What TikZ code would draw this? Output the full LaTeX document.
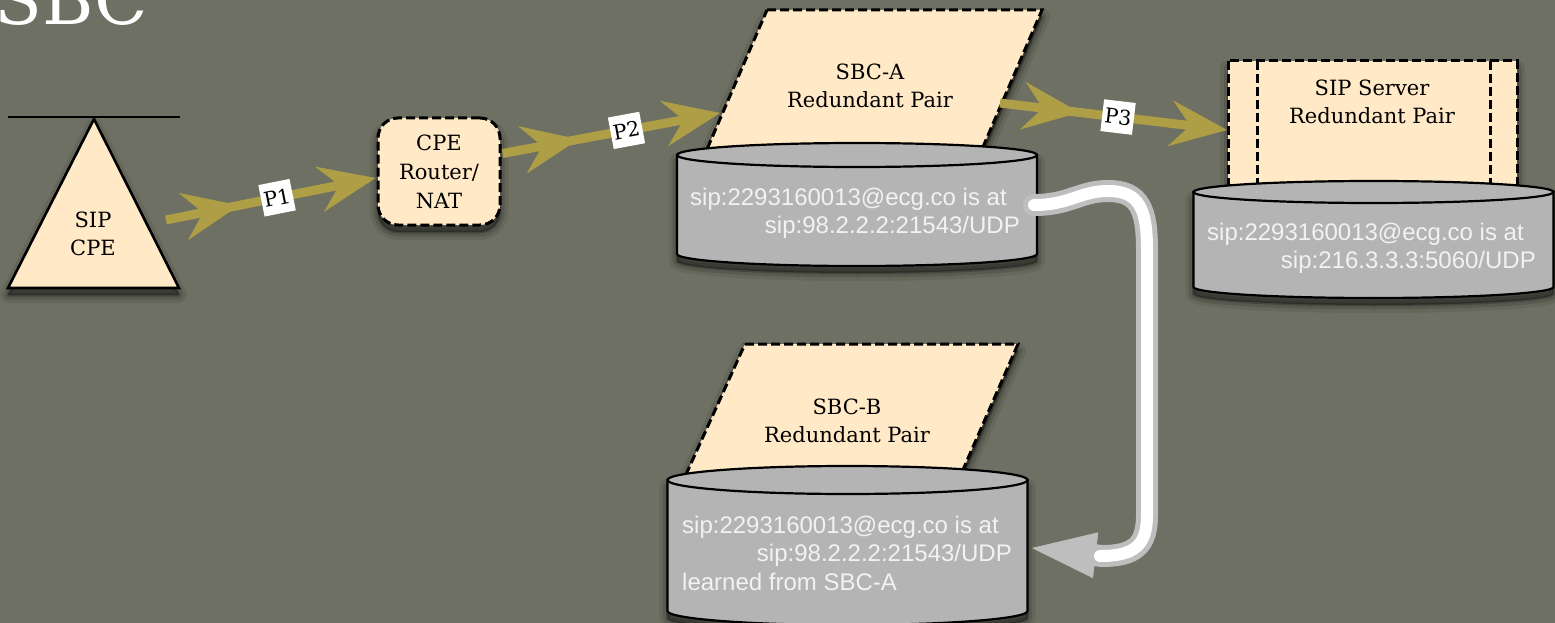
\documentclass[tikz,border=0pt]{standalone}
\usepackage{fontspec}
\setmainfont{DejaVu Serif}
\newfontfamily\arialf{Liberation Sans}
\usetikzlibrary{arrows.meta,decorations.markings,calc}
\definecolor{bg}{RGB}{110,112,99}
\definecolor{peach}{RGB}{255,233,198}
\definecolor{olive}{RGB}{174,158,70}
\definecolor{cylgray}{RGB}{180,180,180}
\definecolor{tubegray}{RGB}{190,190,190}
\definecolor{cyltext}{RGB}{242,242,242}
\newcommand\mycyl[5]{%
  \path[cylstyle, softshadow] (#1-#4,#2) -- (#1-#4,#3) arc[start angle=180,end angle=0,x radius=#4,y radius=#5] -- (#1+#4,#2) -- cycle;
  \path[cylstyle] (#1,#2) ellipse[x radius=#4,y radius=#5];
}
\begin{document}
\begin{tikzpicture}[x=1pt,y=-1pt,
  softshadow/.style={
    preaction={draw=black, solid, line width=16pt, draw opacity=0.08, line join=round, transform canvas={yshift=-7pt}},
    preaction={draw=black, solid, line width=9pt, draw opacity=0.12, line join=round, transform canvas={yshift=-7pt}},
    preaction={fill=black, fill opacity=0.35, draw=black, draw opacity=0.2, solid, line width=3pt, line join=round, transform canvas={yshift=-7pt}}},
  dashedbox/.style={fill=peach, draw=black, line width=3pt, dash pattern=on 9pt off 4pt},
  cylstyle/.style={fill=cylgray, draw=black, line width=2.2pt},
  lbl/.style={font=\fontsize{21}{28}\selectfont, align=center, inner sep=0pt, text=black},
  cyltxt/.style={font=\arialf\fontsize{24}{28}\selectfont, text=cyltext, inner sep=0pt},
  pbox/.style={fill=white, text=black, inner xsep=2.5pt, inner ysep=0pt, minimum height=32pt, font=\fontsize{20.5}{20.5}\selectfont, sloped},
  olivearrow/.style={draw=olive, line width=9pt, -{Stealth[length=57pt,width=46pt,inset=20pt,line width=0.5pt]},
     postaction={decorate},
     decoration={markings, mark=at position 0.35 with {\arrow{Stealth[length=57pt,width=48pt,inset=20pt,line width=0.5pt]}}}}
]
\fill[bg] (0,0) rectangle (1555,623);
\useasboundingbox (0,0) rectangle (1555,623);

% title
\node[anchor=base west, text=white, inner sep=0pt, font=\fontsize{70}{70}\selectfont] (title) at (-6,25) {SBC};

% SIP CPE
\draw[black, line width=2.4pt] (8,117) -- (180,117);
\path[fill=peach, draw=black, line width=2.6pt, line join=miter, softshadow] (94,119) -- (179,288) -- (8,288) -- cycle;
\node[lbl] (sipcpe) at (93,234) {SIP\\CPE};

% CPE router
\node[dashedbox, rounded corners=20pt, minimum width=122pt, minimum height=107pt, softshadow,
      lbl, font=\fontsize{21}{29}\selectfont] (cpe) at (439,171.5) {CPE\\Router/\\NAT};

% SBC-A
\path[dashedbox, softshadow] (767,10) -- (1042,10) -- (979.5,155) -- (704.5,155) -- cycle;
\node[lbl] (sbca) at (870,86) {SBC-A\\Redundant Pair};
\mycyl{857}{155}{254}{180}{12}

% SIP server
\path[dashedbox, softshadow] (1228,61) rectangle (1517,200);
\draw[black, line width=3pt, dash pattern=on 9pt off 4pt] (1257,61) -- (1257,195) (1490,61) -- (1490,195);
\node[lbl] (sipsrv) at (1372,102) {SIP Server\\Redundant Pair};
\mycyl{1373.5}{192}{287}{180}{11}

% SBC-B
\path[dashedbox, softshadow] (745,344) -- (1018,344) -- (958.5,480) -- (683.5,480) -- cycle;
\node[lbl] (sbcb) at (847,421) {SBC-B\\Redundant Pair};
\mycyl{847.5}{480}{611}{180}{14}

% cylinder texts
\node[cyltxt, anchor=base west] (a1) at (690,205) {sip:2293160013@ecg.co is at};
\node[cyltxt, anchor=base east] (a2) at (1020,233) {sip:98.2.2.2:21543/UDP};
\node[cyltxt, anchor=base west] (s1) at (1207,240) {sip:2293160013@ecg.co is at};
\node[cyltxt, anchor=base east] (s2) at (1536,268) {sip:216.3.3.3:5060/UDP};
\node[cyltxt, anchor=base west] (b1) at (682,533) {sip:2293160013@ecg.co is at};
\node[cyltxt, anchor=base east] (b2) at (1012,561) {sip:98.2.2.2:21543/UDP};
\node[cyltxt, anchor=base west] (b3) at (682,590) {learned from SBC-A};

% olive arrows
\coordinate (p1s) at (166,220);
\coordinate (p1e) at ($(cpe.west)+(-1,6.5)$);
\coordinate (p2s) at ($(cpe.east)+(1,-18)$);
\coordinate (p2e) at (720,113);
\coordinate (p3s) at (1000,103);
\coordinate (p3e) at ($(sipsrv.west)+(-1,28)$);
\draw[olivearrow] (p1s) -- node[pbox, pos=0.53] (l1) {P1} (p1e);
\draw[olivearrow] (p2s) -- node[pbox, pos=0.57] (l2) {P2} (p2e);
\draw[olivearrow] (p3s) -- node[pbox, pos=0.52] (l3) {P3} (1227,130);

% replication tube
\coordinate (ta) at (1034,205);
\coordinate (tb) at (1032,548);
\draw[tubegray, line width=22pt, line cap=round, -{Triangle[length=64pt,width=46pt,line width=0.5pt]}]
  (ta) .. controls (1070,205) and (1080,191) .. (1108,191)
  .. controls (1140,191) and (1147,210) .. (1147,250) -- (1147,515)
  .. controls (1147,545) and (1135,556) .. (1102,556) -- (tb);
\draw[white, line width=12pt, line cap=round]
  (ta) .. controls (1070,205) and (1080,191) .. (1108,191)
  .. controls (1140,191) and (1147,210) .. (1147,250) -- (1147,515)
  .. controls (1147,545) and (1135,556) .. (1100,556);
\end{tikzpicture}
\end{document}
